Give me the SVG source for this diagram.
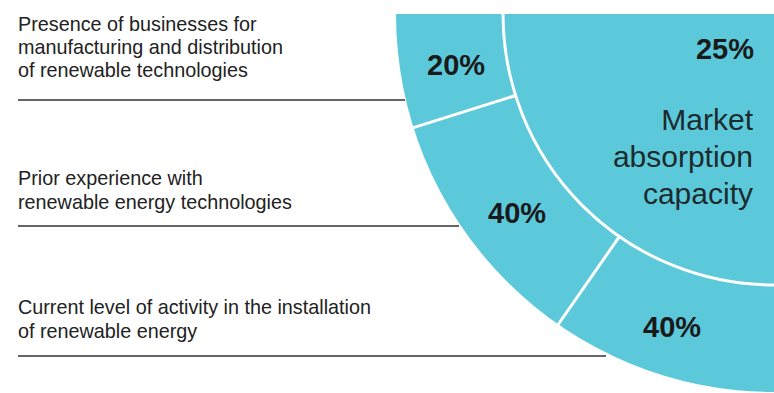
<svg xmlns="http://www.w3.org/2000/svg" width="774" height="393" viewBox="0 0 774 393">
<style>
.lbl{font-family:"Liberation Sans",Arial,sans-serif;font-size:19.8px;fill:#222}
.pct{font-family:"Liberation Sans",Arial,sans-serif;font-size:29px;font-weight:bold;fill:#1a1a1a}
.big{font-family:"Liberation Sans",Arial,sans-serif;font-size:30px;fill:#1c2b2d;text-anchor:end}
.rule{stroke:#333;stroke-width:1.4;fill:none}
.sep{stroke:#fff;stroke-width:3;fill:none}
</style>
<rect width="774" height="393" fill="#fff"/>
<g id="chart">
  <path d="M774,14 L396,14 A378,378 0 0 0 774,392 Z" fill="#5cc9da"/>
  <path class="sep" d="M503,14 A271,271 0 0 0 774,285"/>
  <line class="sep" x1="516.5" y1="95.2" x2="408" y2="129.4"/>
  <line class="sep" x1="619.5" y1="236.4" x2="555" y2="329"/>
</g>
<g id="seg-business">
  <text class="pct" x="427" y="75">20%</text>
</g>
<g id="seg-experience">
  <text class="pct" x="488" y="223">40%</text>
</g>
<g id="seg-activity">
  <text class="pct" x="643" y="337">40%</text>
</g>
<g id="market">
  <text class="pct" x="754" y="59" text-anchor="end">25%</text>
  <text class="big" x="753" y="130">Market</text>
  <text class="big" x="753" y="167">absorption</text>
  <text class="big" x="753" y="204">capacity</text>
</g>
<g id="label-business">
  <text class="lbl" x="18" y="31">Presence of businesses for</text>
  <text class="lbl" x="18" y="54">manufacturing and distribution</text>
  <text class="lbl" x="18" y="77">of renewable technologies</text>
</g>
<g id="label-experience">
  <text class="lbl" x="18" y="185">Prior experience with</text>
  <text class="lbl" x="18" y="209">renewable energy technologies</text>
</g>
<g id="label-activity">
  <text class="lbl" x="18" y="314">Current level of activity in the installation</text>
  <text class="lbl" x="18" y="338">of renewable energy</text>
</g>
<g id="connectors">
  <line class="rule" x1="18" y1="100" x2="405" y2="100"/>
  <line class="rule" x1="18" y1="226" x2="459" y2="226" stroke="#555"/>
  <line class="rule" x1="18" y1="356" x2="606" y2="356"/>
</g>
</svg>
